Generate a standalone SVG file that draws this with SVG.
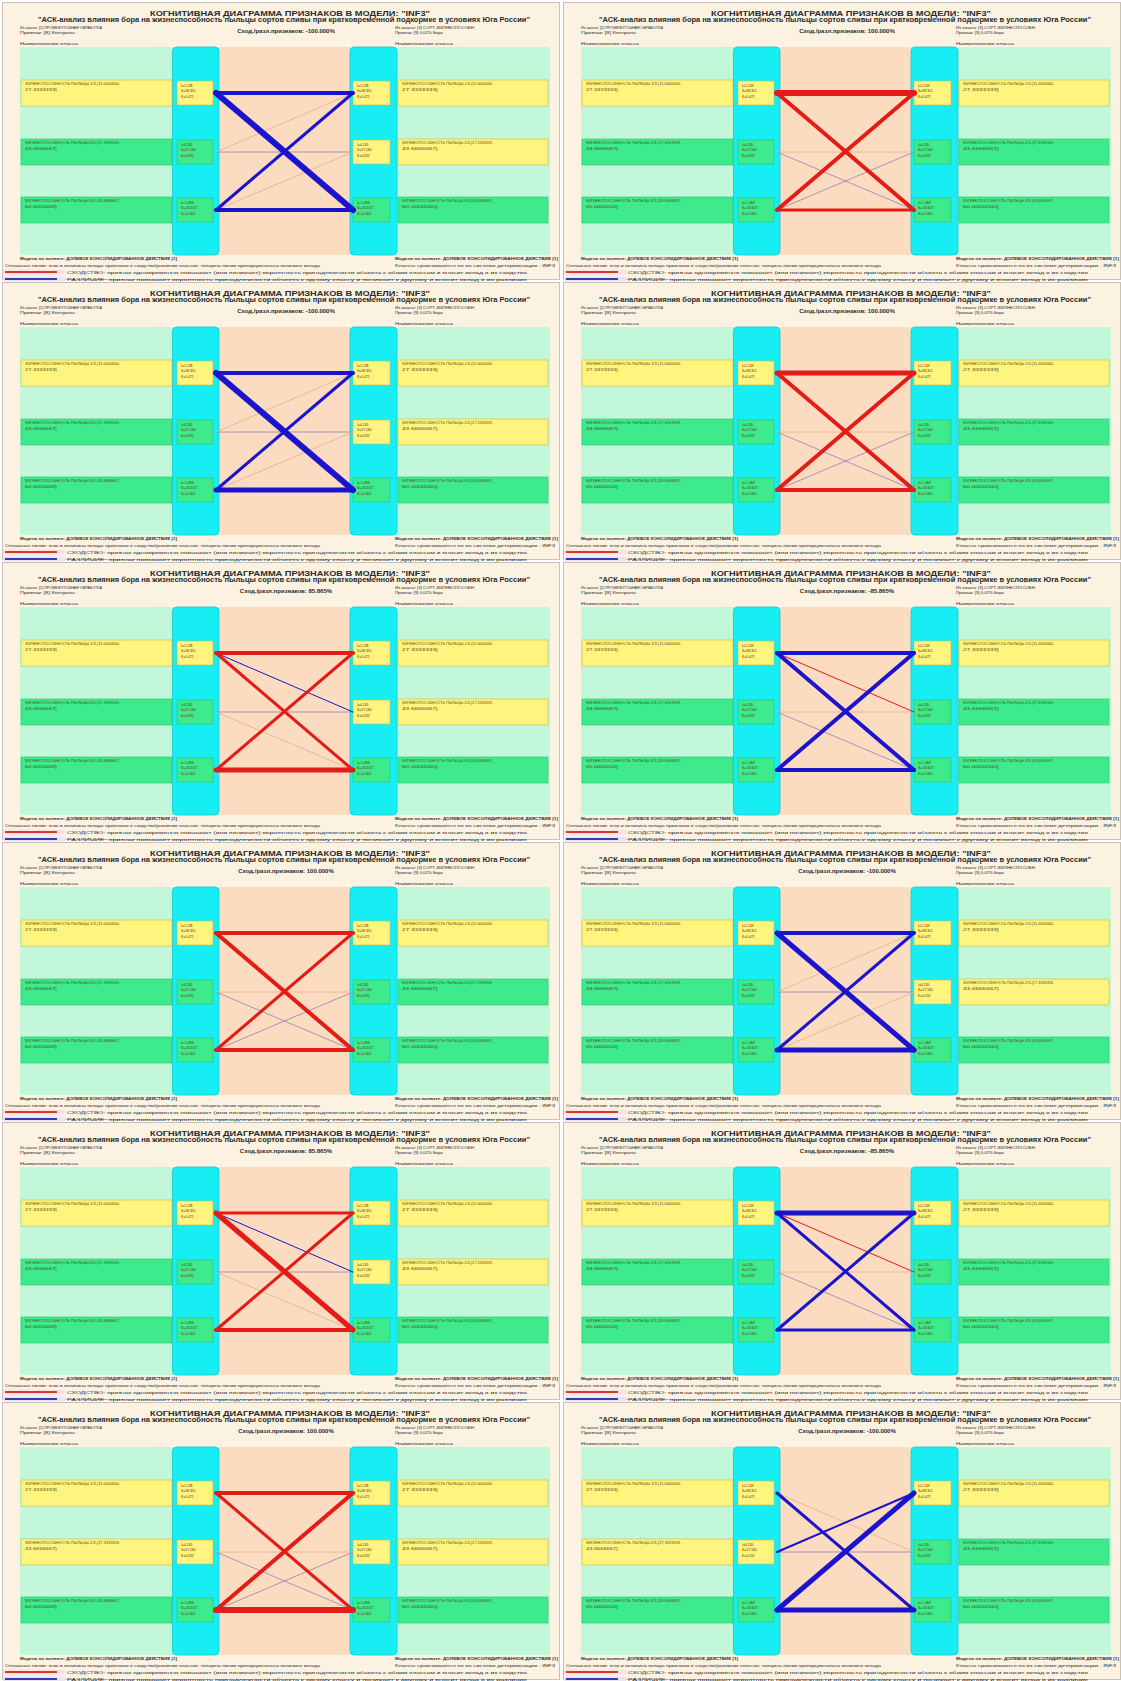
<svg xmlns="http://www.w3.org/2000/svg" xmlns:xlink="http://www.w3.org/1999/xlink" width="1121" height="1681" viewBox="0 0 1121 1681">
<style>
text{font-family:"Liberation Sans",Arial,sans-serif;fill:#2a2a2a}
.bg{fill:#FBF2E2;stroke:#C9C1B2;stroke-width:1}
.mint{fill:#C2F7D9}
.pe{fill:#FCDCC0}
.cy{fill:#16EEF4;stroke:#13C9D2;stroke-width:0.8}
.yr{fill:#FFF57E;stroke:#C9B84A;stroke-width:0.6}
.gr{fill:#3DEA8C;stroke:#2BBF6E;stroke-width:0.6}
.ttl{font-size:7.5px;font-weight:bold;text-anchor:middle}
.sub{font-size:6.5px;font-weight:bold;text-anchor:middle}
.sim{font-size:6px;font-weight:bold;text-anchor:middle}
.info{font-size:4.2px}
.mod{font-size:4.4px;font-weight:bold}
.leg{font-size:3.6px}
.rt{font-size:3.8px;fill:#5a4a20}
.vt{font-size:3.4px;fill:#5a3010}
.R{stroke:#E41B17;stroke-linecap:round}
.B{stroke:#1C14CC;stroke-linecap:round}
.fr{stroke:#E6B48C;stroke-width:0.9}
.fb{stroke:#9A8CB8;stroke-width:0.9}
</style>
<defs>
<g id="base">
<rect class="bg" x="2.5" y="2.5" width="557" height="277"/>
<text class="ttl" x="290" y="15.5" textLength="280" lengthAdjust="spacingAndGlyphs">КОГНИТИВНАЯ ДИАГРАММА ПРИЗНАКОВ В МОДЕЛИ: "INF3"</text>
<text class="sub" x="284" y="22" textLength="492" lengthAdjust="spacingAndGlyphs">"АСК-анализ влияния бора на жизнеспособность пыльцы сортов сливы при кратковременной подкормке в условиях Юга России"</text>
<text class="info" x="20" y="29" textLength="82" lengthAdjust="spacingAndGlyphs">Из шкалы: [2] ПРОМЕЖУТОЧНАЯ ОБРАБОТКА</text>
<text class="info" x="20" y="34" textLength="55" lengthAdjust="spacingAndGlyphs">Признак: [8] Контроль</text>
<text class="info" x="395" y="28.5" textLength="80" lengthAdjust="spacingAndGlyphs">Из шкалы: [3] СОРТ-ЖИЗНЕСПОСОБН.</text>
<text class="info" x="395" y="33.5" textLength="48" lengthAdjust="spacingAndGlyphs">Признак: [9] 0,02% Бора</text>
<text class="info" x="20" y="44.5" textLength="58" lengthAdjust="spacingAndGlyphs">Наименование класса</text>
<text class="info" x="395" y="44.5" textLength="58" lengthAdjust="spacingAndGlyphs">Наименование класса</text>
<rect class="mint" x="20" y="47" width="153" height="208"/>
<rect class="pe" x="219" y="47" width="131" height="208"/>
<rect class="mint" x="397" y="47" width="153" height="208"/>
<rect class="cy" x="172.5" y="47" width="46.5" height="208" rx="4"/>
<rect class="cy" x="350" y="47" width="47" height="208" rx="4"/>
<text class="mod" x="20" y="259.5" textLength="157" lengthAdjust="spacingAndGlyphs">Модель по полноте: ДОЛЕВОЕ КОНСОЛИДИРОВАННОЕ ДЕЙСТВИЕ [1]</text>
<text class="mod" x="395" y="259.5" textLength="163" lengthAdjust="spacingAndGlyphs">Модель по полноте: ДОЛЕВОЕ КОНСОЛИДИРОВАННОЕ ДЕЙСТВИЕ [1]</text>
<text class="leg" x="5" y="266.5" textLength="315" lengthAdjust="spacingAndGlyphs">Сплошные линии: знак и величина вклада признаков в сходство/различие классов; толщина линии пропорциональна величине вклада</text>
<text class="leg" x="395" y="266.5" textLength="160" lengthAdjust="spacingAndGlyphs">Классы сравниваются по их системе детерминации - INF3</text>
<rect x="3" y="269.5" width="62" height="5" fill="#F9E1E6"/>
<line x1="5" y1="272" x2="57" y2="272" stroke="#D8383A" stroke-width="2.2"/>
<text class="leg" x="67" y="273.5" textLength="460" lengthAdjust="spacingAndGlyphs">СХОДСТВО: признак одновременно повышает (или понижает) вероятность принадлежности объекта к обоим классам и вносит вклад в их сходство</text>
<rect x="3" y="276.5" width="62" height="5" fill="#EDE3F4"/>
<line x1="5" y1="279" x2="57" y2="279" stroke="#3A36B8" stroke-width="2.2"/>
<text class="leg" x="67" y="280.5" textLength="460" lengthAdjust="spacingAndGlyphs">РАЗЛИЧИЕ: признак повышает вероятность принадлежности объекта к одному классу и понижает к другому и вносит вклад в их различие</text>
</g>
<g id="LY1"><rect class="yr" x="21" y="0" width="151" height="26"/><text class="rt" x="25" y="5" textLength="95" lengthAdjust="spacingAndGlyphs">ЖИЗНЕСПОСОБНОСТЬ ПЫЛЬЦЫ-1/3-{11.0000000,</text><text class="rt" x="25" y="10.5" textLength="32" lengthAdjust="spacingAndGlyphs">27.3333333}</text><rect class="yr" x="177" y="1" width="36" height="24"/><text class="vt" x="181" y="7">I=1.138</text><text class="vt" x="181" y="12">S=38.351</text><text class="vt" x="181" y="17.5">K=0.471</text></g>
<g id="LG2"><rect class="gr" x="21" y="0" width="151" height="26"/><text class="rt" x="25" y="5" textLength="95" lengthAdjust="spacingAndGlyphs">ЖИЗНЕСПОСОБНОСТЬ ПЫЛЬЦЫ-2/3-{27.3333333,</text><text class="rt" x="25" y="10.5" textLength="32" lengthAdjust="spacingAndGlyphs">43.6666667}</text><rect class="gr" x="177" y="1" width="36" height="24"/><text class="vt" x="181" y="7">I=0.245</text><text class="vt" x="181" y="12">S=17.180</text><text class="vt" x="181" y="17.5">K=0.092</text></g>
<g id="LY2"><rect class="yr" x="21" y="0" width="151" height="26"/><text class="rt" x="25" y="5" textLength="95" lengthAdjust="spacingAndGlyphs">ЖИЗНЕСПОСОБНОСТЬ ПЫЛЬЦЫ-2/3-{27.3333333,</text><text class="rt" x="25" y="10.5" textLength="32" lengthAdjust="spacingAndGlyphs">43.6666667}</text><rect class="yr" x="177" y="1" width="36" height="24"/><text class="vt" x="181" y="7">I=0.245</text><text class="vt" x="181" y="12">S=17.180</text><text class="vt" x="181" y="17.5">K=0.092</text></g>
<g id="LG3"><rect class="gr" x="21" y="0" width="151" height="26"/><text class="rt" x="25" y="5" textLength="95" lengthAdjust="spacingAndGlyphs">ЖИЗНЕСПОСОБНОСТЬ ПЫЛЬЦЫ-3/3-{43.6666667,</text><text class="rt" x="25" y="10.5" textLength="32" lengthAdjust="spacingAndGlyphs">60.0000000}</text><rect class="gr" x="177" y="1" width="36" height="24"/><text class="vt" x="181" y="7">I=-1.383</text><text class="vt" x="181" y="12">S=-33.617</text><text class="vt" x="181" y="17.5">K=-0.563</text></g>
<g id="RY1"><rect class="yr" x="398" y="0" width="150" height="26"/><text class="rt" x="402" y="5" textLength="91" lengthAdjust="spacingAndGlyphs">ЖИЗНЕСПОСОБНОСТЬ ПЫЛЬЦЫ-1/3-{11.0000000,</text><text class="rt" x="402" y="10.5" textLength="36" lengthAdjust="spacingAndGlyphs">27.3333333}</text><rect class="yr" x="353" y="1" width="37" height="24"/><text class="vt" x="357" y="7">I=1.138</text><text class="vt" x="357" y="12">S=38.351</text><text class="vt" x="357" y="17.5">K=0.471</text></g>
<g id="RY2"><rect class="yr" x="398" y="0" width="150" height="26"/><text class="rt" x="402" y="5" textLength="91" lengthAdjust="spacingAndGlyphs">ЖИЗНЕСПОСОБНОСТЬ ПЫЛЬЦЫ-2/3-{27.3333333,</text><text class="rt" x="402" y="10.5" textLength="36" lengthAdjust="spacingAndGlyphs">43.6666667}</text><rect class="yr" x="353" y="1" width="37" height="24"/><text class="vt" x="357" y="7">I=0.245</text><text class="vt" x="357" y="12">S=17.180</text><text class="vt" x="357" y="17.5">K=0.092</text></g>
<g id="RG2"><rect class="gr" x="398" y="0" width="150" height="26"/><text class="rt" x="402" y="5" textLength="91" lengthAdjust="spacingAndGlyphs">ЖИЗНЕСПОСОБНОСТЬ ПЫЛЬЦЫ-2/3-{27.3333333,</text><text class="rt" x="402" y="10.5" textLength="36" lengthAdjust="spacingAndGlyphs">43.6666667}</text><rect class="gr" x="353" y="1" width="37" height="24"/><text class="vt" x="357" y="7">I=0.245</text><text class="vt" x="357" y="12">S=17.180</text><text class="vt" x="357" y="17.5">K=0.092</text></g>
<g id="RG3"><rect class="gr" x="398" y="0" width="150" height="26"/><text class="rt" x="402" y="5" textLength="91" lengthAdjust="spacingAndGlyphs">ЖИЗНЕСПОСОБНОСТЬ ПЫЛЬЦЫ-3/3-{43.6666667,</text><text class="rt" x="402" y="10.5" textLength="36" lengthAdjust="spacingAndGlyphs">60.0000000}</text><rect class="gr" x="353" y="1" width="37" height="24"/><text class="vt" x="357" y="7">I=-1.383</text><text class="vt" x="357" y="12">S=-33.617</text><text class="vt" x="357" y="17.5">K=-0.563</text></g>
</defs>

<g id="p1" transform="translate(0,0)">
<use href="#base"/>
<text class="sim" x="286" y="33">Сход./разл.признаков: -100.000%</text>
<g id="p1-L1"><use href="#LY1" y="80"/></g><g id="p1-L2"><use href="#LG2" y="139"/></g><g id="p1-L3"><use href="#LG3" y="197"/></g>
<g id="p1-R1"><use href="#RY1" y="80"/></g><g id="p1-R2"><use href="#RY2" y="139"/></g><g id="p1-R3"><use href="#RG3" y="197"/></g>
<g id="p1-links">
<line class="fb" x1="216" y1="152" x2="353" y2="152"/><line class="fr" x1="216" y1="152" x2="353" y2="93"/><line class="fr" x1="216" y1="210" x2="353" y2="152"/>
<line class="B" stroke-width="4" x1="216" y1="93" x2="353" y2="93"/><line class="B" stroke-width="6" x1="216" y1="93" x2="353" y2="210"/><line class="B" stroke-width="3" x1="216" y1="210" x2="353" y2="93"/><line class="B" stroke-width="4" x1="216" y1="210" x2="353" y2="210"/>
</g>
</g>

<g id="p2" transform="translate(561,0)">
<use href="#base"/>
<text class="sim" x="286" y="33">Сход./разл.признаков: 100.000%</text>
<g id="p2-L1"><use href="#LY1" y="80"/></g><g id="p2-L2"><use href="#LG2" y="139"/></g><g id="p2-L3"><use href="#LG3" y="197"/></g>
<g id="p2-R1"><use href="#RY1" y="80"/></g><g id="p2-R2"><use href="#RG2" y="139"/></g><g id="p2-R3"><use href="#RG3" y="197"/></g>
<g id="p2-links">
<line class="fr" x1="216" y1="152" x2="353" y2="152"/><line class="fb" x1="216" y1="152" x2="353" y2="210"/><line class="fb" x1="216" y1="210" x2="353" y2="152"/>
<line class="R" stroke-width="6" x1="216" y1="93" x2="353" y2="93"/><line class="R" stroke-width="4" x1="216" y1="93" x2="353" y2="210"/><line class="R" stroke-width="4" x1="216" y1="210" x2="353" y2="93"/><line class="R" stroke-width="3" x1="216" y1="210" x2="353" y2="210"/>
</g>
</g>

<g id="p3" transform="translate(0,280)">
<use href="#base"/>
<text class="sim" x="286" y="33">Сход./разл.признаков: -100.000%</text>
<g id="p3-L1"><use href="#LY1" y="80"/></g><g id="p3-L2"><use href="#LG2" y="139"/></g><g id="p3-L3"><use href="#LG3" y="197"/></g>
<g id="p3-R1"><use href="#RY1" y="80"/></g><g id="p3-R2"><use href="#RY2" y="139"/></g><g id="p3-R3"><use href="#RG3" y="197"/></g>
<g id="p3-links">
<line class="fb" x1="216" y1="152" x2="353" y2="152"/><line class="fr" x1="216" y1="152" x2="353" y2="93"/><line class="fr" x1="216" y1="210" x2="353" y2="152"/>
<line class="B" stroke-width="4" x1="216" y1="93" x2="353" y2="93"/><line class="B" stroke-width="6" x1="216" y1="93" x2="353" y2="210"/><line class="B" stroke-width="3" x1="216" y1="210" x2="353" y2="93"/><line class="B" stroke-width="5" x1="216" y1="210" x2="353" y2="210"/>
</g>
</g>

<g id="p4" transform="translate(561,280)">
<use href="#base"/>
<text class="sim" x="286" y="33">Сход./разл.признаков: 100.000%</text>
<g id="p4-L1"><use href="#LY1" y="80"/></g><g id="p4-L2"><use href="#LG2" y="139"/></g><g id="p4-L3"><use href="#LG3" y="197"/></g>
<g id="p4-R1"><use href="#RY1" y="80"/></g><g id="p4-R2"><use href="#RG2" y="139"/></g><g id="p4-R3"><use href="#RG3" y="197"/></g>
<g id="p4-links">
<line class="fr" x1="216" y1="152" x2="353" y2="152"/><line class="fb" x1="216" y1="152" x2="353" y2="210"/><line class="fb" x1="216" y1="210" x2="353" y2="152"/>
<line class="R" stroke-width="5" x1="216" y1="93" x2="353" y2="93"/><line class="R" stroke-width="4" x1="216" y1="93" x2="353" y2="210"/><line class="R" stroke-width="4" x1="216" y1="210" x2="353" y2="93"/><line class="R" stroke-width="4" x1="216" y1="210" x2="353" y2="210"/>
</g>
</g>

<g id="p5" transform="translate(0,560)">
<use href="#base"/>
<text class="sim" x="286" y="33">Сход./разл.признаков: 85.865%</text>
<g id="p5-L1"><use href="#LY1" y="80"/></g><g id="p5-L2"><use href="#LG2" y="139"/></g><g id="p5-L3"><use href="#LG3" y="197"/></g>
<g id="p5-R1"><use href="#RY1" y="80"/></g><g id="p5-R2"><use href="#RY2" y="139"/></g><g id="p5-R3"><use href="#RG3" y="197"/></g>
<g id="p5-links">
<line class="fb" x1="216" y1="152" x2="353" y2="152"/><line class="fr" x1="216" y1="152" x2="353" y2="210"/><line class="B" stroke-width="1" x1="216" y1="93" x2="353" y2="152"/>
<line class="R" stroke-width="4" x1="216" y1="93" x2="353" y2="93"/><line class="R" stroke-width="3" x1="216" y1="93" x2="353" y2="210"/><line class="R" stroke-width="3" x1="216" y1="210" x2="353" y2="93"/><line class="R" stroke-width="5" x1="216" y1="210" x2="353" y2="210"/>
</g>
</g>

<g id="p6" transform="translate(561,560)">
<use href="#base"/>
<text class="sim" x="286" y="33">Сход./разл.признаков: -85.865%</text>
<g id="p6-L1"><use href="#LY1" y="80"/></g><g id="p6-L2"><use href="#LG2" y="139"/></g><g id="p6-L3"><use href="#LG3" y="197"/></g>
<g id="p6-R1"><use href="#RY1" y="80"/></g><g id="p6-R2"><use href="#RG2" y="139"/></g><g id="p6-R3"><use href="#RG3" y="197"/></g>
<g id="p6-links">
<line class="fr" x1="216" y1="152" x2="353" y2="152"/><line class="fb" x1="216" y1="152" x2="353" y2="210"/><line class="R" stroke-width="1" x1="216" y1="93" x2="353" y2="152"/>
<line class="B" stroke-width="4" x1="216" y1="93" x2="353" y2="93"/><line class="B" stroke-width="4" x1="216" y1="93" x2="353" y2="210"/><line class="B" stroke-width="4" x1="216" y1="210" x2="353" y2="93"/><line class="B" stroke-width="4" x1="216" y1="210" x2="353" y2="210"/>
</g>
</g>

<g id="p7" transform="translate(0,840)">
<use href="#base"/>
<text class="sim" x="286" y="33">Сход./разл.признаков: 100.000%</text>
<g id="p7-L1"><use href="#LY1" y="80"/></g><g id="p7-L2"><use href="#LG2" y="139"/></g><g id="p7-L3"><use href="#LG3" y="197"/></g>
<g id="p7-R1"><use href="#RY1" y="80"/></g><g id="p7-R2"><use href="#RG2" y="139"/></g><g id="p7-R3"><use href="#RG3" y="197"/></g>
<g id="p7-links">
<line class="fr" x1="216" y1="152" x2="353" y2="152"/><line class="fb" x1="216" y1="152" x2="353" y2="210"/><line class="fb" x1="216" y1="210" x2="353" y2="152"/>
<line class="R" stroke-width="4" x1="216" y1="93" x2="353" y2="93"/><line class="R" stroke-width="4" x1="216" y1="93" x2="353" y2="210"/><line class="R" stroke-width="3" x1="216" y1="210" x2="353" y2="93"/><line class="R" stroke-width="4" x1="216" y1="210" x2="353" y2="210"/>
</g>
</g>

<g id="p8" transform="translate(561,840)">
<use href="#base"/>
<text class="sim" x="286" y="33">Сход./разл.признаков: -100.000%</text>
<g id="p8-L1"><use href="#LY1" y="80"/></g><g id="p8-L2"><use href="#LG2" y="139"/></g><g id="p8-L3"><use href="#LG3" y="197"/></g>
<g id="p8-R1"><use href="#RY1" y="80"/></g><g id="p8-R2"><use href="#RY2" y="139"/></g><g id="p8-R3"><use href="#RG3" y="197"/></g>
<g id="p8-links">
<line class="fb" x1="216" y1="152" x2="353" y2="152"/><line class="fr" x1="216" y1="152" x2="353" y2="93"/><line class="fr" x1="216" y1="210" x2="353" y2="152"/>
<line class="B" stroke-width="4" x1="216" y1="93" x2="353" y2="93"/><line class="B" stroke-width="5" x1="216" y1="93" x2="353" y2="210"/><line class="B" stroke-width="3" x1="216" y1="210" x2="353" y2="93"/><line class="B" stroke-width="5" x1="216" y1="210" x2="353" y2="210"/>
</g>
</g>

<g id="p9" transform="translate(0,1120)">
<use href="#base"/>
<text class="sim" x="286" y="33">Сход./разл.признаков: 85.865%</text>
<g id="p9-L1"><use href="#LY1" y="80"/></g><g id="p9-L2"><use href="#LG2" y="139"/></g><g id="p9-L3"><use href="#LG3" y="197"/></g>
<g id="p9-R1"><use href="#RY1" y="80"/></g><g id="p9-R2"><use href="#RY2" y="139"/></g><g id="p9-R3"><use href="#RG3" y="197"/></g>
<g id="p9-links">
<line class="fb" x1="216" y1="152" x2="353" y2="152"/><line class="fr" x1="216" y1="152" x2="353" y2="210"/><line class="B" stroke-width="1" x1="216" y1="93" x2="353" y2="152"/>
<line class="R" stroke-width="3" x1="216" y1="93" x2="353" y2="93"/><line class="R" stroke-width="5" x1="216" y1="93" x2="353" y2="210"/><line class="R" stroke-width="3" x1="216" y1="210" x2="353" y2="93"/><line class="R" stroke-width="4" x1="216" y1="210" x2="353" y2="210"/>
</g>
</g>

<g id="p10" transform="translate(561,1120)">
<use href="#base"/>
<text class="sim" x="286" y="33">Сход./разл.признаков: -85.865%</text>
<g id="p10-L1"><use href="#LY1" y="80"/></g><g id="p10-L2"><use href="#LG2" y="139"/></g><g id="p10-L3"><use href="#LG3" y="197"/></g>
<g id="p10-R1"><use href="#RY1" y="80"/></g><g id="p10-R2"><use href="#RG2" y="139"/></g><g id="p10-R3"><use href="#RG3" y="197"/></g>
<g id="p10-links">
<line class="fr" x1="216" y1="152" x2="353" y2="152"/><line class="fb" x1="216" y1="152" x2="353" y2="210"/><line class="R" stroke-width="1" x1="216" y1="93" x2="353" y2="152"/>
<line class="B" stroke-width="5" x1="216" y1="93" x2="353" y2="93"/><line class="B" stroke-width="3" x1="216" y1="93" x2="353" y2="210"/><line class="B" stroke-width="3" x1="216" y1="210" x2="353" y2="93"/><line class="B" stroke-width="3" x1="216" y1="210" x2="353" y2="210"/>
</g>
</g>

<g id="p11" transform="translate(0,1400)">
<use href="#base"/>
<text class="sim" x="286" y="33">Сход./разл.признаков: 100.000%</text>
<g id="p11-L1"><use href="#LY1" y="80"/></g><g id="p11-L2"><use href="#LY2" y="139"/></g><g id="p11-L3"><use href="#LG3" y="197"/></g>
<g id="p11-R1"><use href="#RY1" y="80"/></g><g id="p11-R2"><use href="#RY2" y="139"/></g><g id="p11-R3"><use href="#RG3" y="197"/></g>
<g id="p11-links">
<line class="fr" x1="216" y1="152" x2="353" y2="152"/><line class="fb" x1="216" y1="152" x2="353" y2="210"/><line class="fb" x1="216" y1="210" x2="353" y2="152"/>
<line class="R" stroke-width="4" x1="216" y1="93" x2="353" y2="93"/><line class="R" stroke-width="3" x1="216" y1="93" x2="353" y2="210"/><line class="R" stroke-width="4" x1="216" y1="210" x2="353" y2="93"/><line class="R" stroke-width="6" x1="216" y1="210" x2="353" y2="210"/>
</g>
</g>

<g id="p12" transform="translate(561,1400)">
<use href="#base"/>
<text class="sim" x="286" y="33">Сход./разл.признаков: -100.000%</text>
<g id="p12-L1"><use href="#LY1" y="80"/></g><g id="p12-L2"><use href="#LY2" y="139"/></g><g id="p12-L3"><use href="#LG3" y="197"/></g>
<g id="p12-R1"><use href="#RY1" y="80"/></g><g id="p12-R2"><use href="#RG2" y="139"/></g><g id="p12-R3"><use href="#RG3" y="197"/></g>
<g id="p12-links">
<line class="fb" x1="216" y1="152" x2="353" y2="152"/><line class="fr" x1="216" y1="93" x2="353" y2="152"/>
<line class="B" stroke-width="3" x1="216" y1="93" x2="353" y2="210"/><line class="B" stroke-width="5" x1="216" y1="210" x2="353" y2="93"/><line class="B" stroke-width="5" x1="216" y1="210" x2="353" y2="210"/><line class="B" stroke-width="2" x1="216" y1="152" x2="353" y2="93"/>
</g>
</g>
</svg>
